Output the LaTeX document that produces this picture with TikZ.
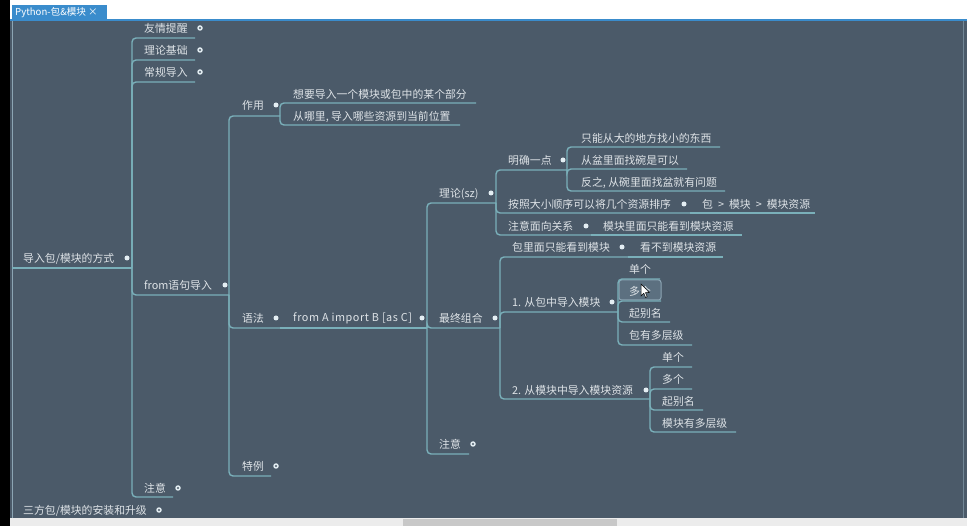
\documentclass[tikz,border=0pt]{standalone}
\usepackage{fontspec}
\setmainfont{Noto Sans CJK SC}
\definecolor{bgc}{RGB}{75,90,105}
\definecolor{lnc}{RGB}{122,176,186}
\definecolor{txc}{RGB}{222,227,231}
\definecolor{dotc}{RGB}{228,238,243}
\definecolor{tabc}{RGB}{58,140,204}
\definecolor{brd}{RGB}{140,165,180}
\definecolor{selc}{RGB}{92,112,128}
\definecolor{scr}{RGB}{236,236,236}
\definecolor{thumb}{RGB}{200,200,200}
\tikzset{
  txt/.style={anchor=west,inner sep=0pt,text=txc,font=\fontsize{10.85}{12}\selectfont},
  lat/.style={txt,font=\fontsize{10.85}{12}\selectfont\addfontfeature{LetterSpace=5}},
  ln/.style={draw=lnc,line width=1.4pt,rounded corners=4pt},
  dotf/.style={circle,fill=dotc,inner sep=0pt,minimum size=5pt},
  dotr/.style={circle,fill=dotc,inner sep=0pt,minimum size=5.5pt,path picture={\fill[bgc] (path picture bounding box.center) circle (1.1pt);}},
}
\begin{document}
\begin{tikzpicture}[x=1pt,y=-1pt]
\useasboundingbox (0,0) rectangle (967,526);
% window frame
\fill[white] (0,0) rectangle (967,21);
\fill[bgc] (10,21) rectangle (967,518);
\fill[black] (0,0) rectangle (10,526);
\fill[tabc] (12,5) rectangle (107,20);
\node[anchor=west,inner sep=0pt,text=white,font=\fontsize{9.6}{11}\selectfont] (tab) at (15,12.8) {Python-包\&模块 ×};
\fill[tabc] (10,19.5) rectangle (967,21.5);
\draw[brd,line width=1pt] (12,21) -- (12,518);
\draw[brd!60!bgc,line width=0.8pt] (963.5,21) -- (963.5,518);
\fill[scr] (10,518) rectangle (967,526);
\fill[thumb] (403,519) rectangle (617,526);

% ---------- root ----------
\node[txt] (R) at (23,258.5) {导入包/模块的方式};
\coordinate (Rs) at (12,268);
\coordinate (Re) at (132,268);
\draw[ln] (Rs) -- (Re);
\node[dotf] (Rd) at (127,258) {};

% level 1
\node[txt] (A1) at (144,28.5) {友情提醒};   \coordinate (A1e) at (195,38);  \node[dotr] (A1d) at (200,28) {};
\node[txt] (A2) at (144,50.5) {理论基础};   \coordinate (A2e) at (195,60);  \node[dotr] (A2d) at (200,50) {};
\node[txt] (A3) at (144,72.5) {常规导入};   \coordinate (A3e) at (195,82);  \node[dotr] (A3d) at (200,72) {};
\node[txt] (A4) at (144,285.5) {from语句导入}; \coordinate (A4e) at (229,295); \node[dotf] (A4d) at (225,285) {};
\node[txt] (A5) at (144,488.5) {注意};       \coordinate (A5e) at (173,497); \node[dotr] (A5d) at (178,488) {};
\foreach \c in {A1e,A2e,A3e,A4e,A5e} \draw[ln] (Re) |- (\c);

% level 2
\node[txt] (B1) at (242,105.5) {作用}; \coordinate (B1e) at (280,116); \node[dotf] (B1d) at (276,105) {};
\node[txt] (B2) at (242,318.5) {语法}; \coordinate (B2e) at (280,328); \node[dotf] (B2d) at (276,318) {};
\node[txt] (B3) at (242,466.5) {特例}; \coordinate (B3e) at (271,476); \node[dotr] (B3d) at (276,466) {};
\foreach \c in {B1e,B2e,B3e} \draw[ln] (A4e) |- (\c);

% 作用 children
\node[txt] (C1) at (293,94.5) {想要导入一个模块或包中的某个部分}; \coordinate (C1e) at (476,103);
\node[txt] (C2) at (293,116.5) {从哪里, 导入哪些资源到当前位置}; \coordinate (C2e) at (460,125);
\foreach \c in {C1e,C2e} \draw[ln] (B1e) |- (\c);

% 语法 child
\node[lat] (D1) at (293,318.5) {from A import B [as C]}; \coordinate (D1e) at (427,328); \node[dotf] (D1d) at (422,318) {};
\draw[ln] (B2e) -- (D1e);

% from A import B children
\node[txt] (E1) at (439,193.5) {理论(sz)}; \coordinate (E1e) at (496,203); \node[dotf] (E1d) at (491,193) {};
\node[txt] (E2) at (439,318.5) {最终组合}; \coordinate (E2e) at (500,328); \node[dotf] (E2d) at (495,318) {};
\node[txt] (E3) at (439,444.5) {注意};     \coordinate (E3e) at (469,454); \node[dotr] (E3d) at (473,444) {};
\foreach \c in {E1e,E2e,E3e} \draw[ln] (D1e) |- (\c);

% 理论(sz) children
\node[txt] (F1) at (508,160.5) {明确一点}; \coordinate (F1e) at (567,170); \node[dotf] (F1d) at (563,160) {};
\node[txt] (F2) at (508,204.5) {按照大小顺序可以将几个资源排序}; \coordinate (F2e) at (690,213); \node[dotf] (F2d) at (684,204) {};
\node[txt] (F3) at (508,226.5) {注意面向关系}; \coordinate (F3e) at (591,235); \node[dotf] (F3d) at (586,226) {};
\foreach \c in {F1e,F2e,F3e} \draw[ln] (E1e) |- (\c);
\node[txt] (G) at (702,204.5) {包\hspace{5pt}>\hspace{5pt}模块\hspace{5pt}>\hspace{5pt}模块资源}; \coordinate (Ge) at (815,213);
\draw[ln] (F2e) -- (Ge);
\node[txt] (H) at (603,226.5) {模块里面只能看到模块资源}; \coordinate (He) at (742,235);
\draw[ln] (F3e) -- (He);

% 明确一点 children
\node[txt] (I1) at (581,138.5) {只能从大的地方找小的东西}; \coordinate (I1e) at (720,147);
\node[txt] (I2) at (581,160.5) {从盆里面找碗是可以};       \coordinate (I2e) at (687,169);
\node[txt] (I3) at (581,182.5) {反之, 从碗里面找盆就有问题}; \coordinate (I3e) at (725,191);
\foreach \c in {I1e,I2e,I3e} \draw[ln] (F1e) |- (\c);

% 最终组合 children
\node[txt] (J1) at (512,247.5) {包里面只能看到模块}; \coordinate (J1e) at (628,257); \node[dotf] (J1d) at (622,247) {};
\node[txt] (J2) at (512,302.5) {1. 从包中导入模块}; \coordinate (J2e) at (618,312); \node[dotf] (J2d) at (612,302) {};
\node[txt] (J3) at (512,390.5) {2. 从模块中导入模块资源}; \coordinate (J3e) at (650,399); \node[dotf] (J3d) at (646,390) {};
\foreach \c in {J1e,J2e,J3e} \draw[ln] (E2e) |- (\c);
\node[txt] (K) at (640,247.5) {看不到模块资源}; \coordinate (Ke) at (723,257);
\draw[ln] (J1e) -- (Ke);

% 1. children
\node[txt] (L1) at (629,269.5) {单个};     \coordinate (L1e) at (660,279);
\node[draw=brd,fill=selc,rounded corners=2.5pt,line width=1pt,minimum width=42pt,minimum height=20pt,inner sep=0pt] (sel) at (640,290) {};
\node[txt] (L2) at (629,291.5) {多个};     \coordinate (L2e) at (661,301);
\node[txt] (L3) at (629,313.5) {起别名};   \coordinate (L3e) at (670,322);
\node[txt] (L4) at (629,335.5) {包有多层级}; \coordinate (L4e) at (692,345);
\foreach \c in {L1e,L3e,L4e} \draw[ln] (J2e) |- (\c);
\draw[ln] (J2e) |- (L2e);

% 2. children
\node[txt] (M1) at (662,357.5) {单个};       \coordinate (M1e) at (692,367);
\node[txt] (M2) at (662,379.5) {多个};       \coordinate (M2e) at (692,389);
\node[txt] (M3) at (662,401.5) {起别名};     \coordinate (M3e) at (703,410);
\node[txt] (M4) at (662,423.5) {模块有多层级}; \coordinate (M4e) at (736,432);
\foreach \c in {M1e,M2e,M3e,M4e} \draw[ln] (J3e) |- (\c);

% mouse cursor
\filldraw[fill=white,draw=black,line width=0.5pt] (641,284) -- (641,296) -- (643.8,293.3) -- (645.6,297.5) -- (647.2,296.8) -- (645.5,292.7) -- (649.3,292.5) -- cycle;

% floating topic
\node[txt] (T) at (23,510.5) {三方包/模块的安装和升级}; \node[dotr] (Td) at (159,510) {};
\end{tikzpicture}
\end{document}
